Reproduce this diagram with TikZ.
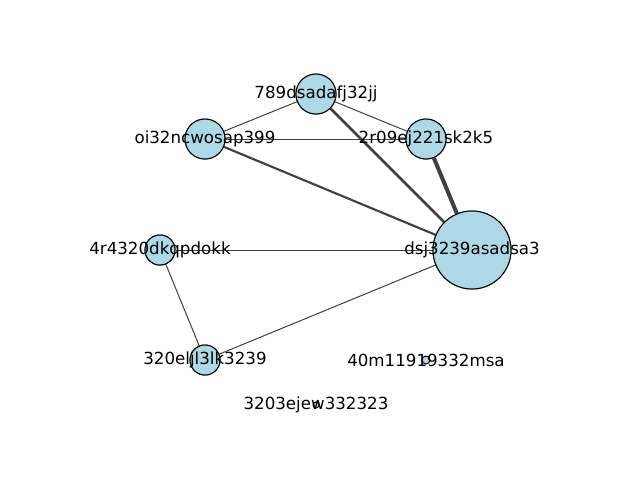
\documentclass[tikz,border=0pt]{standalone}
\usepackage{fontspec}
\setmainfont{DejaVu Sans}
\begin{document}
\begin{tikzpicture}[x=0.75pt,y=-0.75pt,
  nd/.style={circle,draw=black,fill=lightblue,inner sep=0pt,line width=0.75pt},
  lbl/.style={font=\fontsize{12.5}{14}\selectfont,inner sep=0pt},
  ed/.style={draw=black!75,line width=#1}]
\definecolor{lightblue}{RGB}{173,216,230}
\path[use as bounding box] (0,0) rectangle (640,480);
\node[nd,minimum size=40*0.75pt] (a) at (316,94) {};
\node[nd,minimum size=40*0.75pt] (b) at (205,139) {};
\node[nd,minimum size=40*0.75pt] (c) at (426,139) {};
\node[nd,minimum size=78*0.75pt] (d) at (472,250) {};
\node[nd,minimum size=30*0.75pt] (e) at (160,250) {};
\node[nd,minimum size=30*0.75pt] (f) at (205,360) {};
\node[nd,minimum size=8*0.75pt] (g) at (426,360) {};
\node[nd,minimum size=6*0.75pt] (h) at (316,405) {};
\begin{scope}[on background layer/.style={}]
\end{scope}
\path[ed=0.75pt] (a) -- (b);
\path[ed=0.75pt] (a) -- (c);
\path[ed=1.9pt] (a) -- (d);
\path[ed=0.75pt] (b) -- (c);
\path[ed=1.6pt] (b) -- (d);
\path[ed=3pt] (c) -- (d);
\path[ed=0.75pt] (e) -- (d);
\path[ed=0.75pt] (e) -- (f);
\path[ed=0.75pt] (f) -- (d);
\node[nd,minimum size=40*0.75pt] at (a) {};
\node[nd,minimum size=40*0.75pt] at (b) {};
\node[nd,minimum size=40*0.75pt] at (c) {};
\node[nd,minimum size=78*0.75pt] at (d) {};
\node[nd,minimum size=30*0.75pt] at (e) {};
\node[nd,minimum size=30*0.75pt] at (f) {};
\node[lbl] (la) at (a) {789dsadafj32jj};
\node[lbl] (lb) at (b) {oi32ncwosap399};
\node[lbl] (lc) at (c) {2r09ej221sk2k5};
\node[lbl] (ld) at (d) {dsj3239asadsa3};
\node[lbl] (le) at (e) {4r4320dkqpdokk};
\node[lbl] (lf) at (f) {320eljl3lk3239};
\node[lbl] (lg) at (g) {40m11919332msa};
\node[lbl] (lh) at (h) {3203ejew332323};
\end{tikzpicture}
\end{document}
